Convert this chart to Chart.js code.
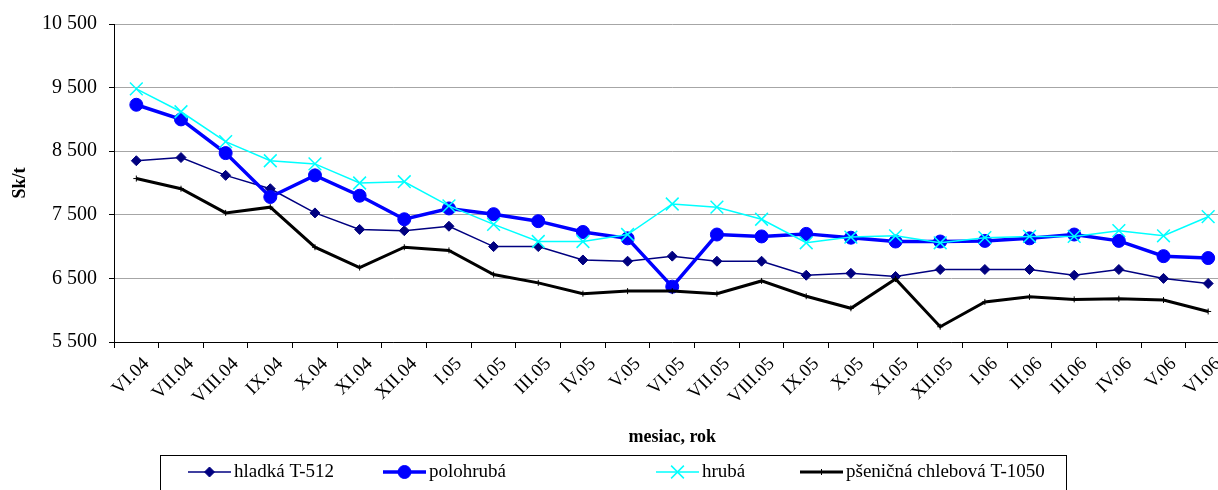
<!DOCTYPE html>
<html>
<head>
<meta charset="utf-8">
<script src="https://cdn.jsdelivr.net/npm/chart.js@4.4.1/dist/chart.umd.min.js"></script>
<style>
  html, body { margin: 0; padding: 0; background: #fff; overflow: hidden; }
  #wrap { width: 1241px; height: 490px; position: relative; }
</style>
</head>
<body>
<div id="wrap"><canvas id="myChart"></canvas></div>
<script>
// months on the x-axis
var months = ["VI.04","VII.04","VIII.04","IX.04","X.04","XI.04","XII.04","I.05","II.05","III.05","IV.05","V.05",
  "VI.05","VII.05","VIII.05","IX.05","X.05","XI.05","XII.05","I.06","II.06","III.06","IV.06","V.06","VI.06"];
// prices in Sk/t
var hladka = [8350,8400,8120,7910,7530,7270,7250,7320,7000,7000,6790,6770,6850,6770,6770,6550,6580,6530,6640,6640,6640,6550,6640,6500,6420];
var polohruba = [9230,9000,8470,7780,8120,7800,7430,7600,7510,7400,7230,7130,6370,7190,7160,7200,7140,7080,7080,7090,7130,7190,7090,6850,6820];
var hruba = [9480,9120,8650,8350,8300,8000,8020,7640,7350,7080,7080,7190,7670,7620,7430,7060,7150,7170,7060,7140,7160,7160,7250,7170,7470];
var psenicna = [8070,7910,7530,7620,6990,6670,6990,6940,6560,6430,6260,6300,6300,6260,6460,6220,6030,6490,5740,6130,6210,6170,6180,6160,5980];

var yTicks = [5500, 6500, 7500, 8500, 9500, 10500];

var serif = '"Liberation Serif", "Times New Roman", serif';

// legend drawn in a framed box like the original
var legendX = [188, 383, 656, 800];
var boxLegend = {
  id: 'boxLegend',
  afterDraw: function(chart) {
    var ctx = chart.ctx;
    ctx.save();
    ctx.strokeStyle = '#000';
    ctx.lineWidth = 1;
    ctx.strokeRect(160.5, 455.5, 906, 40);
    ctx.font = '19px ' + serif;
    ctx.textBaseline = 'middle';
    chart.data.datasets.forEach(function(ds, i) {
      var x = legendX[i], y = 472;
      ctx.strokeStyle = ds.borderColor;
      ctx.lineWidth = ds.borderWidth;
      ctx.beginPath();
      ctx.moveTo(x, y);
      ctx.lineTo(x + 43, y);
      ctx.stroke();
      ctx.fillStyle = ds.pointBackgroundColor;
      ctx.strokeStyle = ds.pointBorderColor;
      ctx.lineWidth = ds.pointBorderWidth;
      Chart.helpers.drawPoint(ctx, {pointStyle: ds.pointStyle, radius: ds.pointRadius, borderWidth: ds.pointBorderWidth, rotation: 0}, x + 21.5, y);
      ctx.fillStyle = '#000';
      ctx.fillText(ds.label, x + 46, y);
    });
    ctx.restore();
  }
};

new Chart(document.getElementById("myChart"), {
  type: 'line',
  data: {
    labels: months,
    datasets: [
      {
        label: "hladká T-512",
        data: hladka,
        borderColor: "#000080",
        borderWidth: 1.5,
        pointStyle: 'rectRot',
        pointRadius: 5,
        pointBackgroundColor: "#000080",
        pointBorderColor: "#000080",
        pointBorderWidth: 1,
        order: 4
      },
      {
        label: "polohrubá",
        data: polohruba,
        borderColor: "#0000ff",
        borderWidth: 3.5,
        pointStyle: 'circle',
        pointRadius: 6.5,
        pointBackgroundColor: "#0000ff",
        pointBorderColor: "#0000ff",
        pointBorderWidth: 1,
        order: 3
      },
      {
        label: "hrubá",
        data: hruba,
        borderColor: "#00ffff",
        borderWidth: 1.5,
        pointStyle: 'crossRot',
        pointRadius: 9,
        pointBackgroundColor: "#00ffff",
        pointBorderColor: "#00ffff",
        pointBorderWidth: 1.5,
        order: 2
      },
      {
        label: "pšeničná chlebová T-1050",
        data: psenicna,
        borderColor: "#000000",
        borderWidth: 3,
        pointStyle: 'cross',
        pointRadius: 3,
        pointBackgroundColor: "#000000",
        pointBorderColor: "#000000",
        pointBorderWidth: 1,
        order: 1
      }
    ]
  },
  options: {
    responsive: true,
    maintainAspectRatio: false,
    animation: false,
    layout: { padding: { top: 21, right: 2, bottom: 38, left: 0 } },
    plugins: {
      legend: { display: false },
      tooltip: { enabled: false }
    },
    scales: {
      x: {
        offset: true,
        grid: { display: true, drawOnChartArea: false, color: '#000', tickLength: 6, offset: true },
        border: { color: '#000', width: 1 },
        ticks: { color: '#000', font: { family: serif, size: 19 }, autoSkip: false, maxRotation: 45, minRotation: 45, padding: 5, labelOffset: 10 },
        title: { display: true, text: 'mesiac, rok', color: '#000', font: { family: serif, size: 18, weight: 'bold' }, padding: { top: 4, bottom: 4 } },
        afterFit: function(scale) { scale.height = 110; }
      },
      y: {
        min: 5500,
        max: 10500,
        afterBuildTicks: function(scale) { scale.ticks = yTicks.map(function(v) { return { value: v }; }); },
        grid: { color: '#a6a6a6', tickColor: '#000', tickLength: 5 },
        border: { color: '#000', width: 1 },
        ticks: {
          color: '#000',
          font: { family: serif, size: 20 },
          padding: 12,
          callback: function(v) { return String(v).replace(/\B(?=(\d{3})+(?!\d))/g, ' '); }
        },
        title: { display: true, text: 'Sk/t', color: '#000', font: { family: serif, size: 18, weight: 'bold' }, padding: { top: 10, bottom: 4 } },
        afterFit: function(scale) { scale.width = 114; }
      }
    }
  },
  plugins: [boxLegend]
});
</script>
</body>
</html>
